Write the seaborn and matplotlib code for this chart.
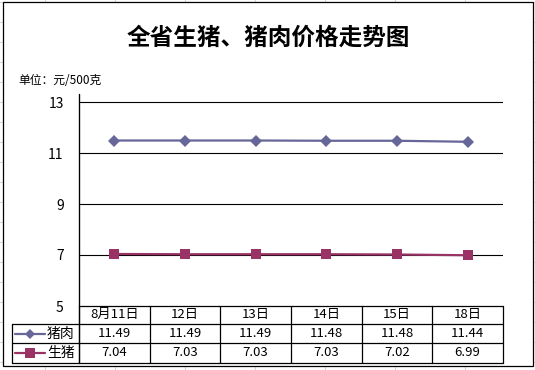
import numpy as np
import pandas as pd
import seaborn as sns
import matplotlib
matplotlib.use('Agg')
import matplotlib.pyplot as plt
from matplotlib.patches import Rectangle
from matplotlib.lines import Line2D
from matplotlib.transforms import blended_transform_factory

# ---- data ----
dates = ['8月11日', '12日', '13日', '14日', '15日', '18日']
pork = [11.49, 11.49, 11.49, 11.48, 11.48, 11.44]
hog = [7.04, 7.03, 7.03, 7.03, 7.02, 6.99]
series_names = ['猪肉', '生猪']
yticks = [5, 7, 9, 11, 13]
title = '全省生猪、猪肉价格走势图'
unit = '单位：元/500克'

colors = {'猪肉': '#666699', '生猪': '#993366'}
markers = {'猪肉': 'D', '生猪': 's'}

df = pd.DataFrame({
    'x': list(range(len(dates))) * 2,
    'value': pork + hog,
    'series': ['猪肉'] * len(dates) + ['生猪'] * len(dates),
})

sns.set_style('white')
plt.rcParams['font.family'] = ['Noto Sans CJK SC', 'DejaVu Sans']
plt.rcParams['text.color'] = 'black'
plt.rcParams['xtick.color'] = 'black'
plt.rcParams['ytick.color'] = 'black'
plt.rcParams['axes.labelcolor'] = 'black'

W, H = 535, 370
fig = plt.figure(figsize=(W / 100, H / 100), dpi=100)

# background / overlay axes in pixel coordinates
bg = fig.add_axes([0, 0, 1, 1], zorder=0)
bg.set_xlim(0, W)
bg.set_ylim(H, 0)
bg.axis('off')
for x in np.arange(45, W, 70):
    bg.plot([x, x], [0, H], color='#d6d6d6', lw=0.8)
for y in np.arange(2.3, H, 20):
    bg.plot([0, W], [y, y], color='#d6d6d6', lw=0.8)
bg.add_patch(Rectangle((3, 2), 530, 364, facecolor='white', edgecolor='black', lw=0.9, zorder=2))

# plot area
L, R, T, B = 79, 503, 94, 306
ax = fig.add_axes([L / W, (H - B) / H, (R - L) / W, (B - T) / H], zorder=1)
ax.patch.set_alpha(0)
px_per_unit = (306 - 102) / 8
ax.set_ylim(5, 13 + (102 - T) / px_per_unit)
ax.set_xlim(-0.5, len(dates) - 0.5)

for v in yticks[1:]:
    ax.axhline(v, color='black', lw=0.8, zorder=1)

sns.lineplot(data=df, x='x', y='value', hue='series', style='series',
             hue_order=series_names, style_order=series_names,
             palette=colors, markers=markers, dashes=False,
             lw=1.6, markeredgewidth=0,
             legend=False, ax=ax, zorder=3)
for line in ax.lines:
    if line.get_marker() == 'D':
        line.set_markersize(6.5)
    elif line.get_marker() == 's':
        line.set_markersize(7.5)

ax.set_xlabel('')
ax.set_ylabel('')
ax.set_xticks([])
ax.set_yticks(yticks)
ax.set_yticklabels([str(v) for v in yticks], fontsize=10)
ax.tick_params(axis='y', direction='out', length=3, width=0.8, color='black', pad=8)
for s in ['top', 'right', 'bottom']:
    ax.spines[s].set_visible(False)
ax.spines['left'].set_color('black')
ax.spines['left'].set_linewidth(0.8)

# titles
bg.text(268, 38, title, ha='center', va='center', fontsize=17, fontweight='bold', zorder=5)
bg.text(18, 80, unit, ha='left', va='center', fontsize=8.5, zorder=5)

# data table
tr = blended_transform_factory(ax.transData, bg.transData)
yh0, yh1, yr1, yr2 = 305.5, 324, 343, 363
kw = dict(color='black', lw=0.9, zorder=5, clip_on=False)
bg.plot([L, R], [yh0, yh0], **kw)
for yy in [yh1, yr1, yr2]:
    bg.plot([12, R], [yy, yy], **kw)
bg.plot([12, 12], [yh1, yr2], **kw)
bg.plot([L, L], [T, yr2], **kw)
for i in range(len(dates) + 1):
    bg.plot([i - 0.5, i - 0.5], [yh0, yr2], transform=tr, **kw)

rows = {'猪肉': pork, '生猪': hog}
row_y = {'猪肉': (yh1 + yr1) / 2, '生猪': (yr1 + yr2) / 2}
for i, d in enumerate(dates):
    bg.text(i, (yh0 + yh1) / 2, d, transform=tr, ha='center', va='center', fontsize=9.5, zorder=6)
    for name in series_names:
        bg.text(i, row_y[name], f'{rows[name][i]:.2f}', transform=tr,
                ha='center', va='center', fontsize=9.5, zorder=6)

for name in series_names:
    yy = row_y[name]
    bg.add_line(Line2D([15, 45], [yy, yy], color=colors[name], lw=1.6, zorder=6))
    bg.add_line(Line2D([30], [yy], color=colors[name], marker=markers[name],
                       markersize=5.5 if name == '猪肉' else 7, markeredgewidth=0, zorder=7))
    bg.text(47, yy, name, ha='left', va='center', fontsize=10, zorder=6)

fig.savefig('out.png', dpi=100)
